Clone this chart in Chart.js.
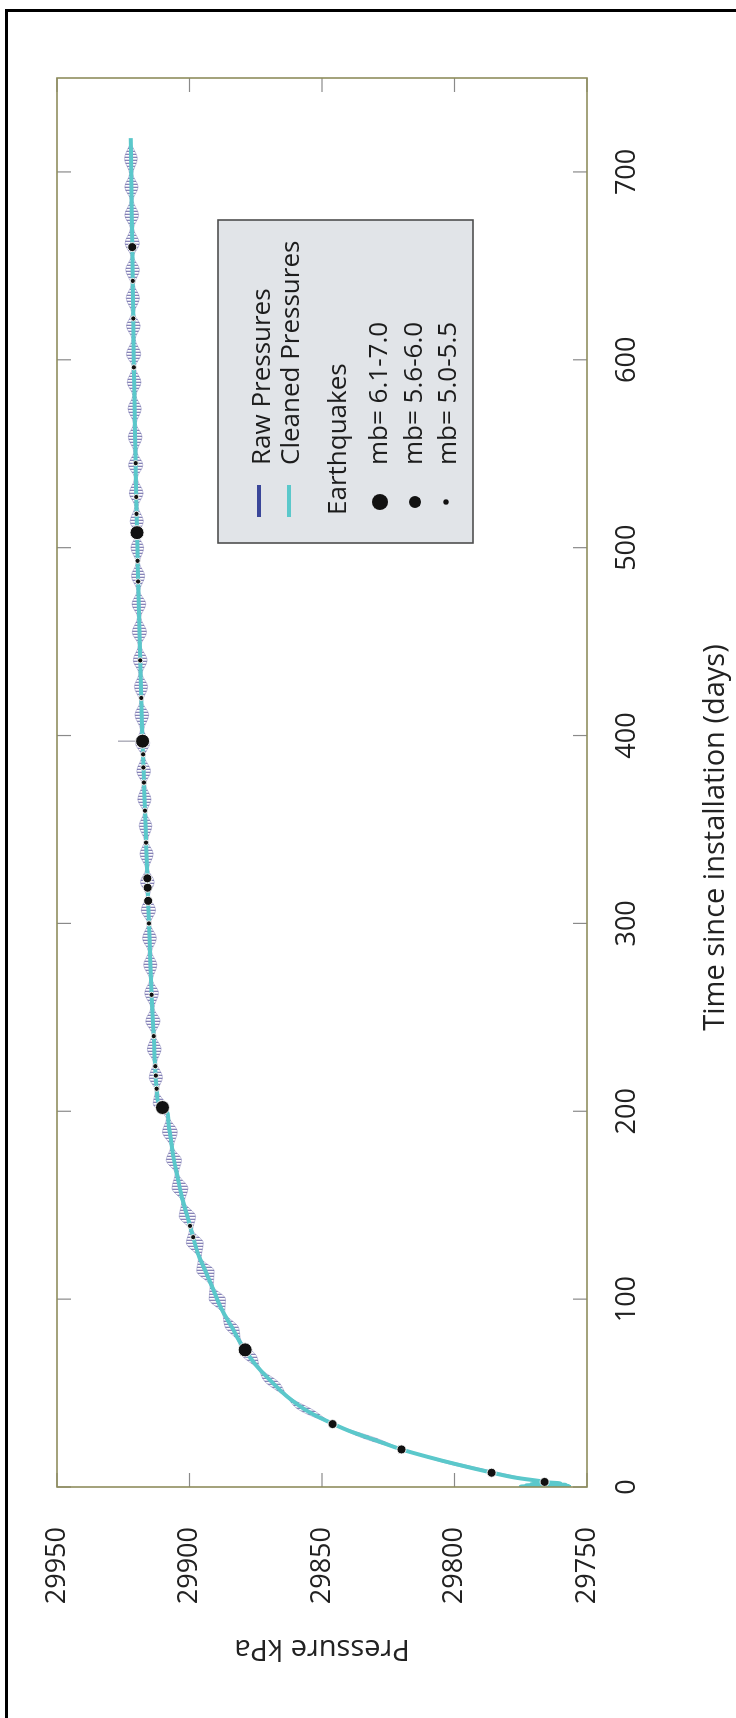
<!DOCTYPE html>
<html>
<head>
<meta charset="utf-8">
<script src="https://cdn.jsdelivr.net/npm/chart.js@4.4.1/dist/chart.umd.min.js"></script>
<style>
html,body{margin:0;padding:0;width:736px;height:1718px;overflow:hidden;background:#fff;}
#frame{position:absolute;left:5px;top:9px;width:800px;height:1800px;border-left:3px solid #000;border-top:3px solid #000;box-sizing:border-box;}
#rot{position:absolute;left:0;top:0;width:1718px;height:736px;transform-origin:0 0;transform:translate(0px,1718px) rotate(-90deg);}
#c{display:block;}
</style>
</head>
<body>
<div id="frame"></div>
<div id="rot"><canvas id="c" width="1718" height="736"></canvas></div>
<script>
// ---- Tick labels ----
const dayTicks = [0, 100, 200, 300, 400, 500, 600, 700];
const pressureTicks = [29750, 29800, 29850, 29900, 29950];

// ---- Axis titles ----
const xTitle = 'Time since installation (days)';
const yTitle = 'Pressure kPa';

// ---- Cleaned pressures (days, kPa) ----
const cleanDays = [0, 0.3, 0.6, 0.9, 1.2, 1.5, 1.9, 2.5, 3, 5, 8, 12, 16, 20, 25, 30, 35, 40, 48, 56, 65, 75, 85, 95, 105, 115, 125, 135, 145, 155, 165, 175, 185, 195, 200, 203, 206, 210, 220, 240, 260, 280, 300, 320, 340, 360, 380, 400, 430, 460, 490, 520, 550, 580, 610, 640, 670, 700, 718];
const cleanKPa = [29756, 29775, 29757, 29773, 29758, 29771, 29760, 29765, 29767, 29777, 29787, 29799, 29810, 29820, 29830, 29840, 29848, 29855, 29863, 29869, 29875, 29880, 29884, 29888, 29891, 29894, 29897, 29899, 29901, 29903, 29904.5, 29906, 29907, 29908, 29908.5, 29911, 29912, 29912.3, 29912.8, 29913.5, 29914.2, 29914.8, 29915.3, 29915.8, 29916.3, 29916.8, 29917.3, 29917.8, 29918.4, 29919, 29919.5, 29920, 29920.4, 29920.8, 29921.1, 29921.4, 29921.7, 29922, 29922.2];

// ---- Raw pressures: tidal envelope (days, high kPa, low kPa) ----
const rawDays = [4, 11, 19, 26, 33, 41, 48, 56, 63, 70, 78, 85, 93, 100, 107, 115, 122, 130, 137, 144, 152, 159, 167, 174, 181, 189, 196, 204, 211, 218, 226, 233, 241, 248, 255, 263, 270, 278, 285, 292, 300, 307, 315, 322, 329, 337, 344, 352, 359, 366, 374, 381, 389, 396, 403, 411, 418, 426, 433, 440, 448, 455, 463, 470, 477, 485, 492, 500, 507, 514, 522, 529, 537, 544, 551, 559, 566, 574, 581, 588, 596, 603, 611, 618, 625, 633, 640, 648, 655, 662, 670, 677, 685, 692, 699, 707, 714];
const rawHigh = [29772.5, 29798.3, 29818.1, 29834.4, 29845.5, 29858.6, 29863.6, 29871.5, 29874.2, 29880.2, 29881.8, 29886.5, 29887.7, 29892.6, 29892.2, 29897.3, 29896.6, 29901.2, 29900.0, 29903.9, 29902.9, 29906.6, 29905.4, 29908.8, 29907.1, 29910.2, 29908.7, 29913.7, 29912.9, 29915.2, 29913.6, 29915.9, 29914.1, 29916.5, 29914.6, 29916.9, 29915.0, 29917.3, 29915.5, 29917.7, 29915.8, 29918.2, 29916.3, 29918.5, 29916.5, 29918.7, 29917.0, 29919.0, 29917.3, 29919.5, 29917.8, 29919.9, 29918.0, 29920.4, 29918.5, 29920.6, 29918.7, 29920.8, 29919.1, 29921.2, 29919.3, 29921.6, 29919.6, 29921.7, 29919.8, 29921.9, 29920.1, 29922.1, 29920.3, 29922.4, 29920.6, 29922.7, 29920.7, 29923.0, 29921.0, 29923.1, 29921.1, 29923.2, 29921.4, 29923.5, 29921.5, 29923.8, 29921.7, 29923.8, 29921.8, 29923.9, 29922.0, 29924.1, 29922.1, 29924.3, 29922.3, 29924.4, 29922.3, 29924.4, 29922.6, 29924.5, 29922.7];
const rawLow = [29771.5, 29793.7, 29816.9, 29829.6, 29844.5, 29853.4, 29862.4, 29866.5, 29873.2, 29874.8, 29880.6, 29881.5, 29886.7, 29886.4, 29891.0, 29890.7, 29895.6, 29894.8, 29898.8, 29897.7, 29901.9, 29900.6, 29904.2, 29903.0, 29906.1, 29904.6, 29907.5, 29908.9, 29911.9, 29910.2, 29912.4, 29910.7, 29913.1, 29911.1, 29913.4, 29911.7, 29914.0, 29912.3, 29914.3, 29912.5, 29914.8, 29912.8, 29915.1, 29913.3, 29915.5, 29913.7, 29915.8, 29914.2, 29916.3, 29914.5, 29916.6, 29914.7, 29917.0, 29915.0, 29917.3, 29915.4, 29917.7, 29915.8, 29917.9, 29916.0, 29918.3, 29916.2, 29918.4, 29916.5, 29918.8, 29916.9, 29918.9, 29917.3, 29919.3, 29917.4, 29919.4, 29917.5, 29919.7, 29917.6, 29919.8, 29917.9, 29920.1, 29918.2, 29920.2, 29918.3, 29920.5, 29918.4, 29920.5, 29918.6, 29920.8, 29918.9, 29920.8, 29918.9, 29921.1, 29918.9, 29921.1, 29919.2, 29921.3, 29919.4, 29921.4, 29919.7, 29921.7];

// ---- Raw pressure spike at the large event ----
const spikeDays = [397, 397];
const spikeKPa = [29917.7, 29927];

// ---- Earthquakes (days, kPa) by magnitude class ----
const eqBigDays = [73, 202, 397, 508];
const eqBigKPa = [29879, 29910.2, 29917.7, 29919.8];
const eqMidDays = [2.7, 7.6, 20, 33.5, 312, 319, 324, 660];
const eqMidKPa = [29766, 29786, 29820, 29846, 29915.6, 29915.8, 29915.9, 29921.6];
const eqSmallDays = [133, 139, 212, 219, 224, 240, 262, 300, 343, 360, 375, 383, 390, 420, 440, 482, 493, 518, 527, 545, 596, 622, 642];
const eqSmallKPa = [29898.6, 29899.8, 29912.4, 29912.7, 29912.9, 29913.5, 29914.3, 29915.3, 29916.4, 29916.8, 29917.2, 29917.4, 29917.5, 29918.2, 29918.6, 29919.4, 29919.6, 29920.0, 29920.1, 29920.3, 29921.0, 29921.2, 29921.4];

// ---- Legend entries ----
const legendLines = ['Raw Pressures', 'Cleaned Pressures'];
const legendHeader = 'Earthquakes';
const legendClasses = ['mb= 6.1-7.0', 'mb= 5.6-6.0', 'mb= 5.0-5.5'];

const FONT = "'Open Sans', 'Noto Sans', sans-serif";
const NAVY = '#3a4699';
const CYAN = '#5bc8cb';

const pts = (xs, ys) => xs.map((d, i) => ({x: d, y: ys[i]}));

// hatch pattern for raw tidal oscillations (lines perpendicular to time axis)
const pc = document.createElement('canvas');
pc.width = 3; pc.height = 1;
const pctx = pc.getContext('2d');
pctx.fillStyle = 'rgba(105,100,165,0.8)';
pctx.fillRect(0, 0, 1, 1);
pctx.fillStyle = 'rgba(160,158,200,0.4)';
pctx.fillRect(1, 0, 1, 1);
const hatch = pctx.createPattern(pc, 'repeat');

const overlay = {
  id: 'overlay',
  afterDatasetsDraw(chart) {
    const {ctx, chartArea: a, scales: {x, y}} = chart;
    ctx.save();
    const line = (x1, y1, x2, y2) => { ctx.beginPath(); ctx.moveTo(x1, y1); ctx.lineTo(x2, y2); ctx.stroke(); };
    // inward tick marks on all four sides
    ctx.strokeStyle = '#8a8a8a';
    ctx.lineWidth = 1.2;
    dayTicks.forEach(v => {
      const px = x.getPixelForValue(v);
      line(px, a.top, px, a.top + 14);
      line(px, a.bottom, px, a.bottom - 14);
    });
    pressureTicks.forEach(v => {
      const py = y.getPixelForValue(v);
      line(a.left, py, a.left + 14, py);
      line(a.right, py, a.right - 14, py);
    });
    // plot frame
    ctx.strokeStyle = '#8e8c5c';
    ctx.lineWidth = 1.6;
    ctx.strokeRect(a.left, a.top, a.right - a.left, a.bottom - a.top);

    // time-axis title (set slightly toward the origin, as in the figure)
    ctx.fillStyle = '#222';
    ctx.font = '29px ' + FONT;
    ctx.textAlign = 'center';
    ctx.textBaseline = 'middle';
    ctx.fillText(xTitle, (a.left + a.right) / 2 - 55, x.bottom - 17);

    // legend box
    const bx = 1175, by = 218, bw = 323, bh = 255;
    ctx.fillStyle = '#e1e4e8';
    ctx.fillRect(bx, by, bw, bh);
    ctx.strokeStyle = '#4d4d4d';
    ctx.lineWidth = 1.6;
    ctx.strokeRect(bx, by, bw, bh);

    ctx.lineCap = 'butt';
    ctx.lineWidth = 4;
    ctx.strokeStyle = NAVY; line(1201, 259, 1233, 259);
    ctx.strokeStyle = CYAN; line(1201, 289, 1233, 289);

    ctx.fillStyle = '#1c1c1c';
    ctx.font = '26px ' + FONT;
    ctx.textBaseline = 'alphabetic';
    ctx.textAlign = 'left';
    ctx.fillText(legendLines[0], 1253, 270);
    ctx.fillText(legendLines[1], 1253, 299);
    ctx.fillText(legendHeader, 1203, 346);
    const rows = [387, 422, 456];
    const radii = [8, 6, 2.7];
    const dotV = [380, 415, 446];
    legendClasses.forEach((t, i) => {
      ctx.fillStyle = '#1c1c1c';
      ctx.fillText(t, 1253, rows[i]);
      ctx.fillStyle = '#111';
      ctx.beginPath(); ctx.arc(1216, dotV[i], radii[i], 0, Math.PI * 2); ctx.fill();
    });
    ctx.restore();
  }
};

const dotStyle = {showLine: false, backgroundColor: '#111', borderColor: 'rgba(255,255,255,0.9)', borderWidth: 1, order: 0};

new Chart(document.getElementById('c'), {
  type: 'scatter',
  data: {
    datasets: [
      Object.assign({label: legendClasses[0], data: pts(eqBigDays, eqBigKPa), pointRadius: 7}, dotStyle),
      Object.assign({label: legendClasses[1], data: pts(eqMidDays, eqMidKPa), pointRadius: 4.5}, dotStyle),
      Object.assign({label: legendClasses[2], data: pts(eqSmallDays, eqSmallKPa), pointRadius: 2.6}, dotStyle),
      {label: legendLines[1], data: pts(cleanDays, cleanKPa), showLine: true, borderColor: CYAN, borderWidth: 4,
       pointRadius: 0, cubicInterpolationMode: 'monotone', borderJoinStyle: 'round', order: 1},
      {label: 'Raw spike', data: pts(spikeDays, spikeKPa), showLine: true, borderColor: '#9c9cab', borderWidth: 1.2, pointRadius: 0, order: 2},
      {label: legendLines[0], data: pts(rawDays, rawHigh), showLine: true, borderColor: 'rgba(90,90,160,0.45)', borderWidth: 0.8,
       pointRadius: 0, cubicInterpolationMode: 'monotone', fill: '+1', backgroundColor: hatch, order: 3},
      {label: legendLines[0] + ' low', data: pts(rawDays, rawLow), showLine: true, borderColor: 'rgba(90,90,160,0.45)', borderWidth: 0.8,
       pointRadius: 0, cubicInterpolationMode: 'monotone', fill: false, order: 4}
    ]
  },
  options: {
    responsive: false,
    animation: false,
    events: [],
    layout: {padding: {left: 0, right: 78, top: 57, bottom: 3}},
    plugins: {legend: {display: false}, tooltip: {enabled: false}},
    scales: {
      x: {
        type: 'linear', position: 'bottom', min: 0, max: 750,
        afterBuildTicks: s => { s.ticks = dayTicks.map(v => ({value: v})); },
        afterFit: s => { s.height = 146; },
        grid: {display: false, drawTicks: false},
        border: {display: false},
        ticks: {padding: 24, color: '#222', font: {family: FONT, size: 27}, maxRotation: 0, autoSkip: false,
                callback: v => String(v)},
        title: {display: false, text: xTitle}
      },
      y: {
        type: 'linear', position: 'left', min: 29750, max: 29950,
        afterBuildTicks: s => { s.ticks = pressureTicks.map(v => ({value: v})); },
        afterFit: s => { s.width = 231; },
        grid: {display: false, drawTicks: false},
        border: {display: false},
        ticks: {padding: 40, color: '#222', font: {family: FONT, size: 27}, autoSkip: false,
                callback: v => String(v)},
        title: {display: true, text: yTitle, color: '#222',
                font: {family: FONT, size: 29}, padding: {top: 52, bottom: 0}}
      }
    }
  },
  plugins: [overlay]
});
</script>
</body>
</html>
